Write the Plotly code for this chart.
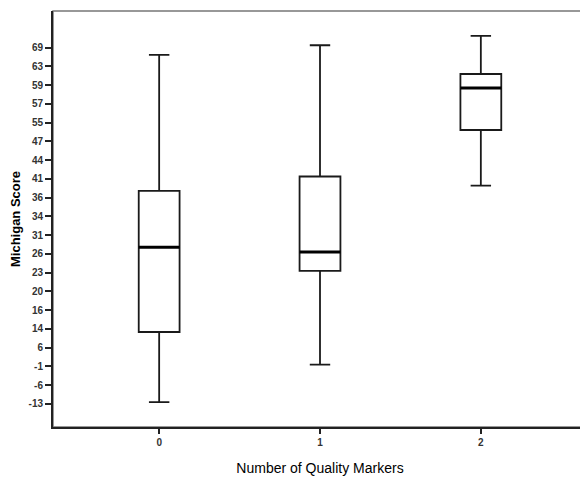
import numpy as np
import plotly.graph_objects as go

# Tick labels of the (ordinal, equally spaced) y axis, bottom to top
y_tick_labels = [-13, -6, -1, 6, 14, 16, 20, 23, 26, 31, 34, 36, 41, 44, 47, 55, 57, 59, 63, 69]
categories = ["0", "1", "2"]
x_positions = [0, 1, 2]
lower_whisker = [-12.3, -0.3, 39.2]
q1 = [12.7, 23.3, 51.9]
median = [27.8, 26.5, 58.7]
q3 = [37.8, 41.4, 61.4]
upper_whisker = [66.7, 69.8, 72.8]

# Axis scale: labels are placed at equal steps, so map score -> tick index
_lab = np.array(y_tick_labels, dtype=float)
_idx = np.arange(len(_lab), dtype=float)


def to_axis(v):
    v = np.asarray(v, dtype=float)
    out = np.interp(v, _lab, _idx)
    # linear extension beyond the top label using the last step
    top_step = _lab[-1] - _lab[-2]
    out = np.where(v > _lab[-1], _idx[-1] + (v - _lab[-1]) / top_step, out)
    return out


BOX_W = 0.254

fig = go.Figure()
fig.add_trace(go.Box(
    x=x_positions,
    q1=to_axis(q1), median=to_axis(median), q3=to_axis(q3),
    lowerfence=to_axis(lower_whisker), upperfence=to_axis(upper_whisker),
    width=BOX_W, whiskerwidth=0.5,
    fillcolor="white", line=dict(color="#1a1a1a", width=1.8),
    boxpoints=False, hoverinfo="skip", showlegend=False,
))

# thicker median bars
med_y = to_axis(median)
for xp, my in zip(x_positions, med_y):
    fig.add_trace(go.Scatter(
        x=[xp - BOX_W / 2, xp + BOX_W / 2], y=[my, my], mode="lines",
        line=dict(color="black", width=3), showlegend=False, hoverinfo="skip",
    ))

FONT = "Liberation Sans, Arial, sans-serif"
tick_font = dict(family=FONT, size=10, color="#333", weight="bold")

fig.update_layout(
    width=580, height=473,
    margin=dict(l=43, r=1, t=3, b=54),
    paper_bgcolor="white", plot_bgcolor="white",
    font=dict(family=FONT, color="black"),
    xaxis=dict(
        range=[-0.66, 2.66], tickvals=x_positions, ticktext=categories,
        showgrid=False, zeroline=False,
        showline=True, linecolor="#222", linewidth=2,
        ticks="outside", ticklen=5, tickwidth=1.5, tickcolor="#222",
        tickfont=tick_font,
        title=dict(text="Number of Quality Markers",
                   font=dict(size=14, family=FONT, color="black"),
                   standoff=16),
    ),
    yaxis=dict(
        range=[-1.23, 20.96], tickvals=list(_idx), ticktext=[str(t) for t in y_tick_labels],
        showgrid=False, zeroline=False,
        showline=True, linecolor="#222", linewidth=2,
        ticks="outside", ticklen=6, tickwidth=1.5, tickcolor="#222",
        tickfont=tick_font,
        title=dict(text="<b>Michigan Score</b>",
                   font=dict(size=13, family=FONT, color="black"),
                   standoff=10),
    ),
    shapes=[dict(type="rect", xref="paper", yref="paper", x0=0, x1=1, y0=0, y1=1,
                 line=dict(color="#777", width=1.5), layer="below")],
)

fig.write_html("out.html")
